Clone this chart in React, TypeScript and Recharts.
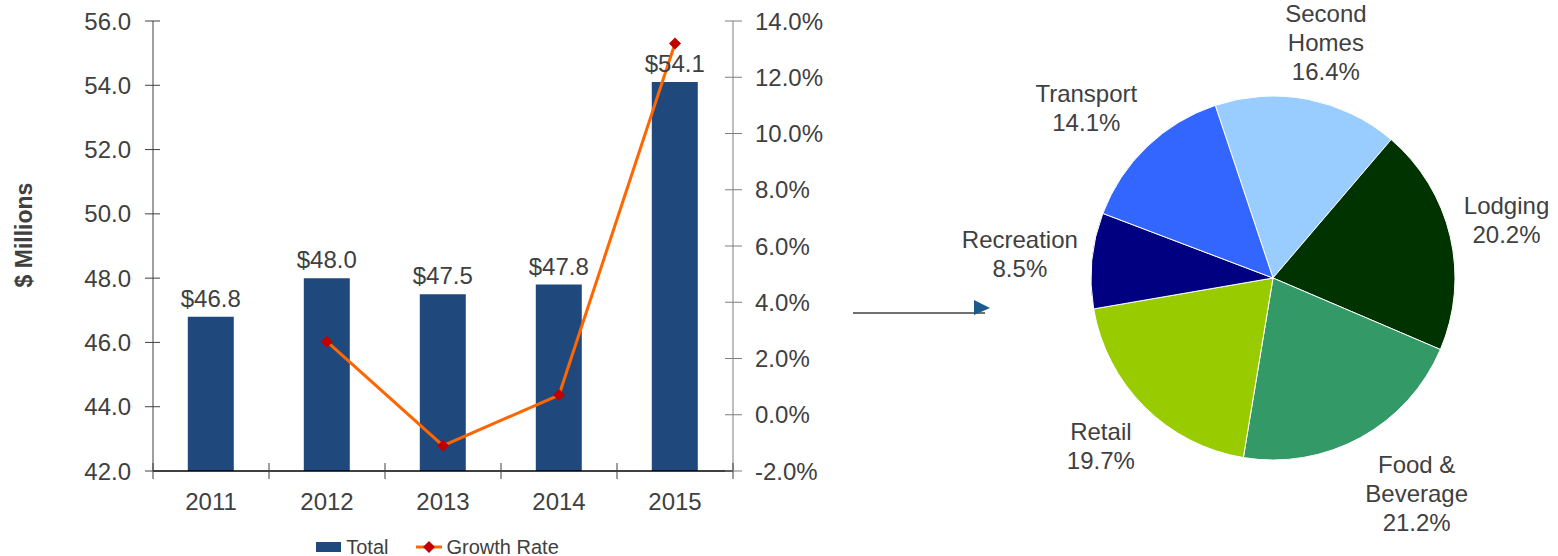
import React from 'react';
import { ComposedChart, Bar, Line, XAxis, YAxis, Legend, LabelList, PieChart, Pie, Cell } from 'recharts';

// left chart: annual totals ($ millions) and growth rate (%)
const years = ['2011', '2012', '2013', '2014', '2015'];
const totals = [46.8, 48.0, 47.5, 47.8, 54.1];
const growth: (number | null)[] = [null, 2.6, -1.1, 0.7, 13.2];
const leftTicks = [42, 44, 46, 48, 50, 52, 54, 56];
const rightTicks = [-2, 0, 2, 4, 6, 8, 10, 12, 14];

// right chart: spending shares (%)
const segments = ['Second\nHomes', 'Lodging', 'Food &\nBeverage', 'Retail', 'Recreation', 'Transport'];
const shares = [16.4, 20.2, 21.2, 19.7, 8.5, 14.1];
const segmentColors = ['#99CCFF', '#003300', '#339966', '#99CC00', '#000080', '#3366FF'];

const FONT = '"Liberation Sans", Arial, Helvetica, sans-serif';
const FS = 24;
const INK = '#404040';
const BAR = '#1F497D';
const ORANGE = '#FF6600';
const RED = '#C00000';

const PLOT_LEFT = 153;
const PLOT_RIGHT = 733;
const HALF_BAND = (PLOT_RIGHT - PLOT_LEFT) / years.length / 2;

const barData = years.map((y, i) => ({ year: y, total: totals[i], growth: growth[i] }));
const pieData = segments.map((s, i) => ({ name: s, value: shares[i] }));

let ctx: CanvasRenderingContext2D | null = null;
const textWidth = (t: string) => {
  if (!ctx && typeof document !== 'undefined') ctx = document.createElement('canvas').getContext('2d');
  if (!ctx) return t.length * FS * 0.52;
  ctx.font = `${FS}px ${FONT}`;
  return ctx.measureText(t).width;
};

const LeftTick = (p: any) => {
  const ax = p.x + 22;
  return (
    <g>
      <line x1={ax - 8} x2={ax + 7} y1={p.y} y2={p.y} stroke={INK} strokeWidth={1} />
      <text x={p.x} y={p.y} dy="0.36em" textAnchor="end" fontFamily={FONT} fontSize={FS} fill={INK}>
        {Number(p.payload.value).toFixed(1)}
      </text>
    </g>
  );
};

const RightTick = (p: any) => {
  const ax = p.x - 23;
  return (
    <g>
      <line x1={ax - 8} x2={ax + 9} y1={p.y} y2={p.y} stroke="#7f7f7f" strokeWidth={1} />
      <text x={p.x - 1} y={p.y} dy="0.36em" textAnchor="start" fontFamily={FONT} fontSize={FS} fill={INK}>
        {Number(p.payload.value).toFixed(1)}%
      </text>
    </g>
  );
};

const XTick = (p: any) => {
  const last = p.index === years.length - 1;
  return (
    <g>
      <line x1={p.x - HALF_BAND} x2={p.x - HALF_BAND} y1={p.y - 8} y2={p.y + 8} stroke={INK} />
      {last && <line x1={p.x + HALF_BAND} x2={p.x + HALF_BAND} y1={p.y - 8} y2={p.y + 8} stroke={INK} />}
      <text x={p.x} y={p.y + 30} dy="0.36em" textAnchor="middle" fontFamily={FONT} fontSize={FS} fill={INK}>
        {p.payload.value}
      </text>
    </g>
  );
};

const YTitle = (p: any) => {
  const vb = p.viewBox || { x: 0, y: 21, width: 153, height: 450 };
  const x = vb.x + 24;
  const y = vb.y + vb.height / 2 - 11;
  return (
    <text x={x} y={y} dy="0.36em" transform={`rotate(-90 ${x} ${y})`} textAnchor="middle"
      fontFamily={FONT} fontSize={23} fontWeight="bold" fill={INK}>
      $ Millions
    </text>
  );
};

const Diamond = (p: any) => {
  if (p.cx == null || p.cy == null || p.value == null) return <g key={p.index} />;
  const r = 6;
  return (
    <path key={p.index} d={`M${p.cx},${p.cy - r}L${p.cx + r},${p.cy}L${p.cx},${p.cy + r}L${p.cx - r},${p.cy}Z`} fill={RED} />
  );
};

const LegendContent = () => (
  <div style={{ height: 26, position: 'relative', top: 4, display: 'flex', alignItems: 'center', justifyContent: 'center',
    paddingLeft: 15, fontFamily: FONT, fontSize: 20, color: INK, lineHeight: '26px' }}>
    <span style={{ display: 'inline-block', width: 25, height: 10, background: BAR, marginRight: 5 }} />
    <span>Total</span>
    <svg width={26} height={14} style={{ marginLeft: 28, marginRight: 4 }}>
      <line x1={0} x2={26} y1={7} y2={7} stroke={ORANGE} strokeWidth={3} />
      <path d="M13,1L19,7L13,13L7,7Z" fill={RED} />
    </svg>
    <span>Growth Rate</span>
  </div>
);

// outside labels: the nearest corner of the label box sits on a ring around the pie
const RAD = Math.PI / 180;
const clamp = (v: number) => Math.max(-1, Math.min(1, v));
const PieLabel = (p: any) => {
  const lines = segments[p.index].split('\n');
  lines.push(`${shares[p.index].toFixed(1)}%`);
  const lh = 29;
  const w = Math.max(...lines.map(textWidth));
  const h = lines.length * lh;
  const c = Math.cos(p.midAngle * RAD);
  const s = Math.sin(p.midAngle * RAD);
  const R = p.outerRadius + 14;
  const x = p.cx + R * c + clamp(c / 0.5) * (w / 2);
  const y = p.cy - R * s - clamp(s / 0.5) * (h / 2);
  const y0 = y - ((lines.length - 1) * lh) / 2;
  return (
    <text x={x} y={y0} textAnchor="middle" fontFamily={FONT} fontSize={FS} fill={INK}>
      {lines.map((l, i) => (
        <tspan key={i} x={x} y={y0 + i * lh} dy="0.36em">{l}</tspan>
      ))}
    </text>
  );
};

export default function App() {
  return (
    <div style={{ position: 'absolute', left: 0, top: 0, width: 1558, height: 556, background: '#fff', fontFamily: FONT }}>
      <div style={{ position: 'absolute', left: 0, top: 0 }}>
        <ComposedChart width={860} height={556} data={barData} barCategoryGap="30%"
          margin={{ top: 21, right: 0, bottom: 0, left: 0 }}>
          <XAxis dataKey="year" height={59} tickSize={0} tickMargin={0} tick={<XTick />}
            axisLine={{ stroke: '#000', strokeWidth: 1.5 }} interval={0} />
          <YAxis yAxisId="left" width={153} domain={[42, 56]} ticks={leftTicks} allowDataOverflow
            tickSize={0} tickMargin={22} tick={<LeftTick />} axisLine={{ stroke: INK }} label={<YTitle />} />
          <YAxis yAxisId="right" orientation="right" width={127} domain={[-2, 14]} ticks={rightTicks}
            tickSize={0} tickMargin={23} tick={<RightTick />} axisLine={{ stroke: '#7f7f7f' }} />
          <Legend verticalAlign="bottom" content={<LegendContent />} />
          <Bar yAxisId="left" dataKey="total" fill={BAR} isAnimationActive={false}>
            <LabelList dataKey="total" position="top" offset={10} fontFamily={FONT} fontSize={FS} fill={INK}
              formatter={(v: any) => `$${Number(v).toFixed(1)}`} />
          </Bar>
          <Line yAxisId="right" dataKey="growth" type="linear" stroke={ORANGE} strokeWidth={3}
            dot={<Diamond />} activeDot={false} isAnimationActive={false} />
        </ComposedChart>
      </div>
      <svg style={{ position: 'absolute', left: 0, top: 0 }} width={1558} height={556} pointerEvents="none">
        <line x1={853} x2={985} y1={313} y2={313} stroke="#404040" strokeWidth={1.5} />
        <path d="M974,300L990,308L974,315Z" fill="#1B5A8E" />
      </svg>
      <div style={{ position: 'absolute', left: 860, top: 0 }}>
        <PieChart width={698} height={556} margin={{ top: 0, right: 0, bottom: 0, left: 0 }}>
          <Pie data={pieData} dataKey="value" nameKey="name" cx={413} cy={278} outerRadius={182}
            startAngle={108.5} endAngle={-251.5} stroke="#fff" strokeWidth={1}
            label={PieLabel} labelLine={false} isAnimationActive={false}>
            {pieData.map((d, i) => (
              <Cell key={d.name} fill={segmentColors[i]} />
            ))}
          </Pie>
        </PieChart>
      </div>
    </div>
  );
}
